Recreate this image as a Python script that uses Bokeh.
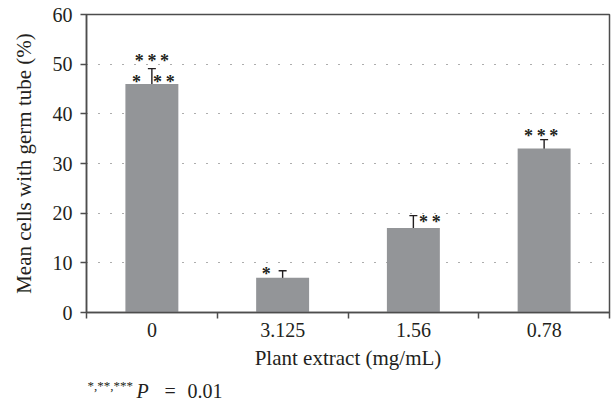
import numpy as np
from bokeh.plotting import figure
from bokeh.layouts import column
from bokeh.models import Range1d, FixedTicker, Whisker, TeeHead, ColumnDataSource, Label
from bokeh.embed import file_html
from bokeh.resources import INLINE
from bokeh.core.properties import value

# ---- data ----
categories = ["0", "3.125", "1.56", "0.78"]
means = [46.0, 7.0, 17.0, 33.0]
errors = [3.1, 1.4, 2.5, 1.8]

# significance markers: bar index, text, vertical position
sig_bar = [0, 0, 0, 1, 2, 3]
sig_text = ["*\u2009*\u2009*", "*", "*\u2009*", "*", "*\u2009*", "*\u2009*\u2009*"]
sig_y = [50.6, 46.35, 46.35, 7.7, 18.2, 35.5]

yticks = [0, 10, 20, 30, 40, 50, 60]
xlabel = "Plant extract (mg/mL)"
ylabel = "Mean cells with germ tube (%)"
foot_sup = "*,**,***"
foot_p = "P"
foot_eq = "="
foot_val = "0.01"

# ---- style / layout ----
FONT = "Liberation Serif"
BAR = "#939598"
INK = "#231f20"
AX = "#4d4d4d"
sig_dx = [0, -15.5, 12, -16.5, 16.5, -3]   # pixel nudges

n = len(categories)
xs = [i + 0.5 for i in range(n)]

p = figure(width=612, height=375, output_backend="svg", toolbar_location=None,
           x_range=Range1d(0, n), y_range=Range1d(0, 60),
           min_border_left=86, min_border_right=3, min_border_top=14, min_border_bottom=63)
p.background_fill_color = "white"
p.border_fill_color = "white"
p.outline_line_color = AX
p.outline_line_width = 1.5

p.vbar(x=xs, top=means, width=0.405, fill_color=BAR, line_color=None)

src = ColumnDataSource(dict(x=xs, upper=[m + e for m, e in zip(means, errors)],
                            lower=[m - e for m, e in zip(means, errors)]))
w = Whisker(source=src, base="x", upper="upper", lower="lower",
            line_color=INK, line_width=1.4,
            upper_head=TeeHead(size=8, line_color=INK, line_width=1.4),
            lower_head=TeeHead(size=8, line_color=INK, line_width=1.4))
p.add_layout(w)

p.text(x=[xs[b] for b in sig_bar], y=sig_y, text=sig_text, x_offset=sig_dx,
       text_font=value(FONT), text_font_size="18px", text_font_style="bold",
       text_align="center", text_baseline="alphabetic", text_color=INK)

# x axis
p.xaxis.ticker = FixedTicker(ticks=xs, minor_ticks=list(range(n + 1)))
p.xaxis.major_label_overrides = {x: c for x, c in zip(xs, categories)}
p.xaxis.major_tick_line_color = None
p.xaxis.major_tick_out = 0
p.xaxis.major_tick_in = 0
p.xaxis.minor_tick_out = 6
p.xaxis.minor_tick_in = 0
p.xaxis.minor_tick_line_color = AX
p.xaxis.minor_tick_line_width = 1.5
p.xaxis.major_label_standoff = 4
p.xaxis.axis_label = xlabel
p.xaxis.axis_label_standoff = 6

# y axis
p.yaxis.ticker = FixedTicker(ticks=yticks)
p.yaxis.minor_tick_line_color = None
p.yaxis.major_tick_out = 6
p.yaxis.major_tick_in = 0
p.yaxis.major_tick_line_color = AX
p.yaxis.major_tick_line_width = 1.5
p.yaxis.major_label_standoff = 8
p.yaxis.axis_label = ylabel
p.yaxis.axis_label_standoff = 14

for ax in (p.xaxis, p.yaxis):
    ax.axis_line_color = AX
    ax.axis_line_width = 1.5
    ax.major_label_text_font = FONT
    ax.major_label_text_font_size = "20px"
    ax.major_label_text_color = INK
    ax.axis_label_text_font = FONT
    ax.axis_label_text_font_size = "21px"
    ax.axis_label_text_font_style = "normal"
    ax.axis_label_text_color = INK

p.xgrid.visible = False
p.ygrid.ticker = FixedTicker(ticks=yticks)
p.ygrid.grid_line_color = "#5a5a5a"
p.ygrid.grid_line_dash = "1 11"
p.ygrid.grid_line_width = 1.2

# footnote strip: its frame lines up with the main frame (86..609); y in page pixels
f = figure(width=612, height=36, output_backend="svg", toolbar_location=None,
           x_range=Range1d(86, 609), y_range=Range1d(411, 375),
           x_axis_type=None, y_axis_type=None,
           min_border=0, min_border_left=0, min_border_right=0,
           min_border_top=0, min_border_bottom=0)
f.outline_line_color = None
f.background_fill_color = "white"
f.border_fill_color = "white"
f.xgrid.visible = False
f.ygrid.visible = False

f.add_layout(Label(x=87, y=385, text=foot_sup, text_font=FONT, text_font_size="13px",
                   text_color=INK, text_baseline="alphabetic", text_align="left"))
f.add_layout(Label(x=136, y=390, text=foot_p, text_font=FONT, text_font_size="20px",
                   text_font_style="italic", text_color=INK, text_baseline="alphabetic",
                   text_align="left"))
f.add_layout(Label(x=164, y=390, text=foot_eq, text_font=FONT, text_font_size="20px",
                   text_color=INK, text_baseline="alphabetic", text_align="left"))
f.add_layout(Label(x=187, y=390, text=foot_val, text_font=FONT, text_font_size="20px",
                   text_color=INK, text_baseline="alphabetic", text_align="left"))

layout = column(p, f, spacing=0)
open("out.html", "w").write(file_html(layout, INLINE))
